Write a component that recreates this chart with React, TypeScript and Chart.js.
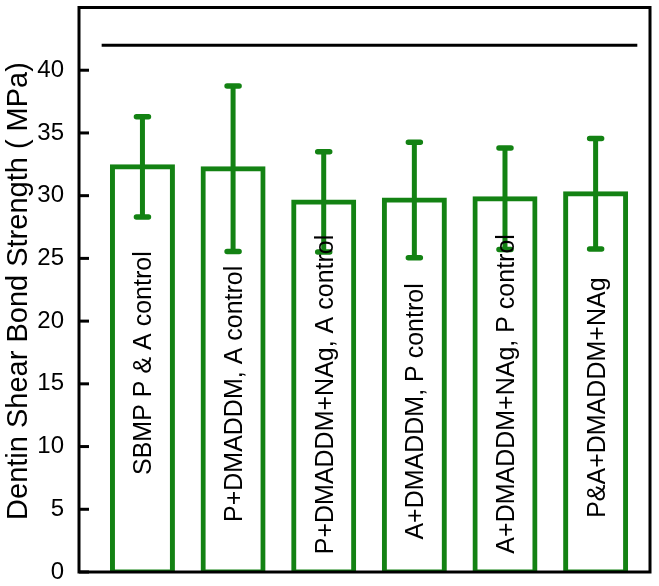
import React, { useEffect, useRef } from 'react';
import { Chart, registerables } from 'chart.js';

Chart.register(...registerables);

const groups = [
  'SBMP P & A control',
  'P+DMADDM, A control',
  'P+DMADDM+NAg, A control',
  'A+DMADDM, P control',
  'A+DMADDM+NAg, P control',
  'P&A+DMADDM+NAg',
];
const positions = [1, 2, 3, 4, 5, 6];
const means = [32.3, 32.15, 29.5, 29.65, 29.75, 30.15];
const sds = [4.0, 6.6, 4.0, 4.6, 4.05, 4.4];
const labelCenters = [16.65, 14.2, 14.15, 12.8, 14.2, 13.9];
const yTickValues = [0, 5, 10, 15, 20, 25, 30, 35, 40];
const bracketY = 42;
const bracketFrom = 0.55;
const bracketTo = 6.46;
const yTitle = 'Dentin Shear Bond Strength ( MPa)';
const yTitleCenter = 22.4;

const GREEN = '#138213';
const FONT = '"Liberation Sans", Arial, Helvetica, sans-serif';

const overlayPlugin = {
  id: 'overlay',
  afterDatasetsDraw(chart: any) {
    const ctx = chart.ctx;
    const xs = chart.scales.x;
    const ys = chart.scales.y;
    ctx.save();
    ctx.strokeStyle = GREEN;
    for (let i = 0; i < means.length; i++) {
      const x = xs.getPixelForValue(positions[i]);
      const yt = ys.getPixelForValue(means[i] + sds[i]);
      const yb = ys.getPixelForValue(means[i] - sds[i]);
      ctx.lineCap = 'butt';
      ctx.lineWidth = 5;
      ctx.beginPath();
      ctx.moveTo(x, yt);
      ctx.lineTo(x, yb);
      ctx.stroke();
      ctx.lineCap = 'round';
      ctx.lineWidth = 5.5;
      ctx.beginPath();
      ctx.moveTo(x - 6, yt);
      ctx.lineTo(x + 6, yt);
      ctx.moveTo(x - 6, yb);
      ctx.lineTo(x + 6, yb);
      ctx.stroke();
    }
    const fs = 25;
    ctx.fillStyle = '#000';
    ctx.font = `${fs}px ${FONT}`;
    ctx.textAlign = 'center';
    ctx.textBaseline = 'alphabetic';
    for (let i = 0; i < groups.length; i++) {
      const x = xs.getPixelForValue(positions[i]);
      const y = ys.getPixelForValue(labelCenters[i]);
      ctx.save();
      ctx.translate(x + (0.716 * fs) / 2, y);
      ctx.rotate(-Math.PI / 2);
      ctx.fillText(groups[i], 0, 0);
      ctx.restore();
    }
    ctx.restore();
  },
  afterDraw(chart: any) {
    const ctx = chart.ctx;
    const a = chart.chartArea;
    const ys = chart.scales.y;
    ctx.save();
    ctx.strokeStyle = '#000';
    ctx.lineWidth = 3;
    ctx.lineCap = 'butt';
    ctx.strokeRect(a.left, a.top, a.right - a.left, a.bottom - a.top);
    for (const v of yTickValues) {
      const y = ys.getPixelForValue(v);
      ctx.beginPath();
      ctx.moveTo(a.left, y);
      ctx.lineTo(a.left + 10, y);
      ctx.stroke();
    }
    ctx.fillStyle = '#000';
    ctx.font = `29px ${FONT}`;
    ctx.textAlign = 'center';
    ctx.textBaseline = 'alphabetic';
    ctx.translate(27, ys.getPixelForValue(yTitleCenter));
    ctx.rotate(-Math.PI / 2);
    ctx.fillText(yTitle, 0, 0);
    ctx.restore();
  },
};

export default function App() {
  const ref = useRef<HTMLCanvasElement | null>(null);
  useEffect(() => {
    if (!ref.current) return;
    const chart = new Chart(ref.current, {
      type: 'bar',
      data: {
        datasets: [
          {
            type: 'bar',
            data: positions.map((p, i) => ({ x: p, y: means[i] })),
            backgroundColor: '#ffffff',
            borderColor: GREEN,
            borderWidth: 5,
            borderSkipped: false,
            inflateAmount: 2.5,
            barThickness: 60,
          } as any,
          {
            type: 'line',
            data: [
              { x: bracketFrom, y: bracketY },
              { x: bracketTo, y: bracketY },
            ],
            borderColor: '#000',
            borderWidth: 3,
            pointRadius: 0,
            fill: false,
          } as any,
        ],
      },
      options: {
        responsive: false,
        animation: false,
        layout: { padding: { left: 0, right: 9, top: 7.5, bottom: 14 } },
        plugins: { legend: { display: false }, tooltip: { enabled: false }, title: { display: false } },
        scales: {
          x: {
            type: 'linear',
            min: 0.3,
            max: 6.6,
            offset: false,
            display: false,
          },
          y: {
            min: 0,
            max: 45,
            grid: { display: false, drawTicks: false },
            border: { display: false },
            afterFit: (scale: any) => {
              scale.width = 79;
              scale.paddingTop = 0;
              scale.paddingBottom = 0;
            },
            ticks: {
              stepSize: 5,
              padding: 15,
              color: '#000',
              font: { family: FONT, size: 24 },
              callback: (v: any) => (yTickValues.includes(Number(v)) ? String(v) : ''),
            },
          },
        },
      },
      plugins: [overlayPlugin],
    });
    return () => chart.destroy();
  }, []);
  return (
    <div style={{ position: 'absolute', left: 0, top: 0, width: 659, height: 586, background: '#fff' }}>
      <canvas ref={ref} width={659} height={586} style={{ display: 'block' }} />
    </div>
  );
}
